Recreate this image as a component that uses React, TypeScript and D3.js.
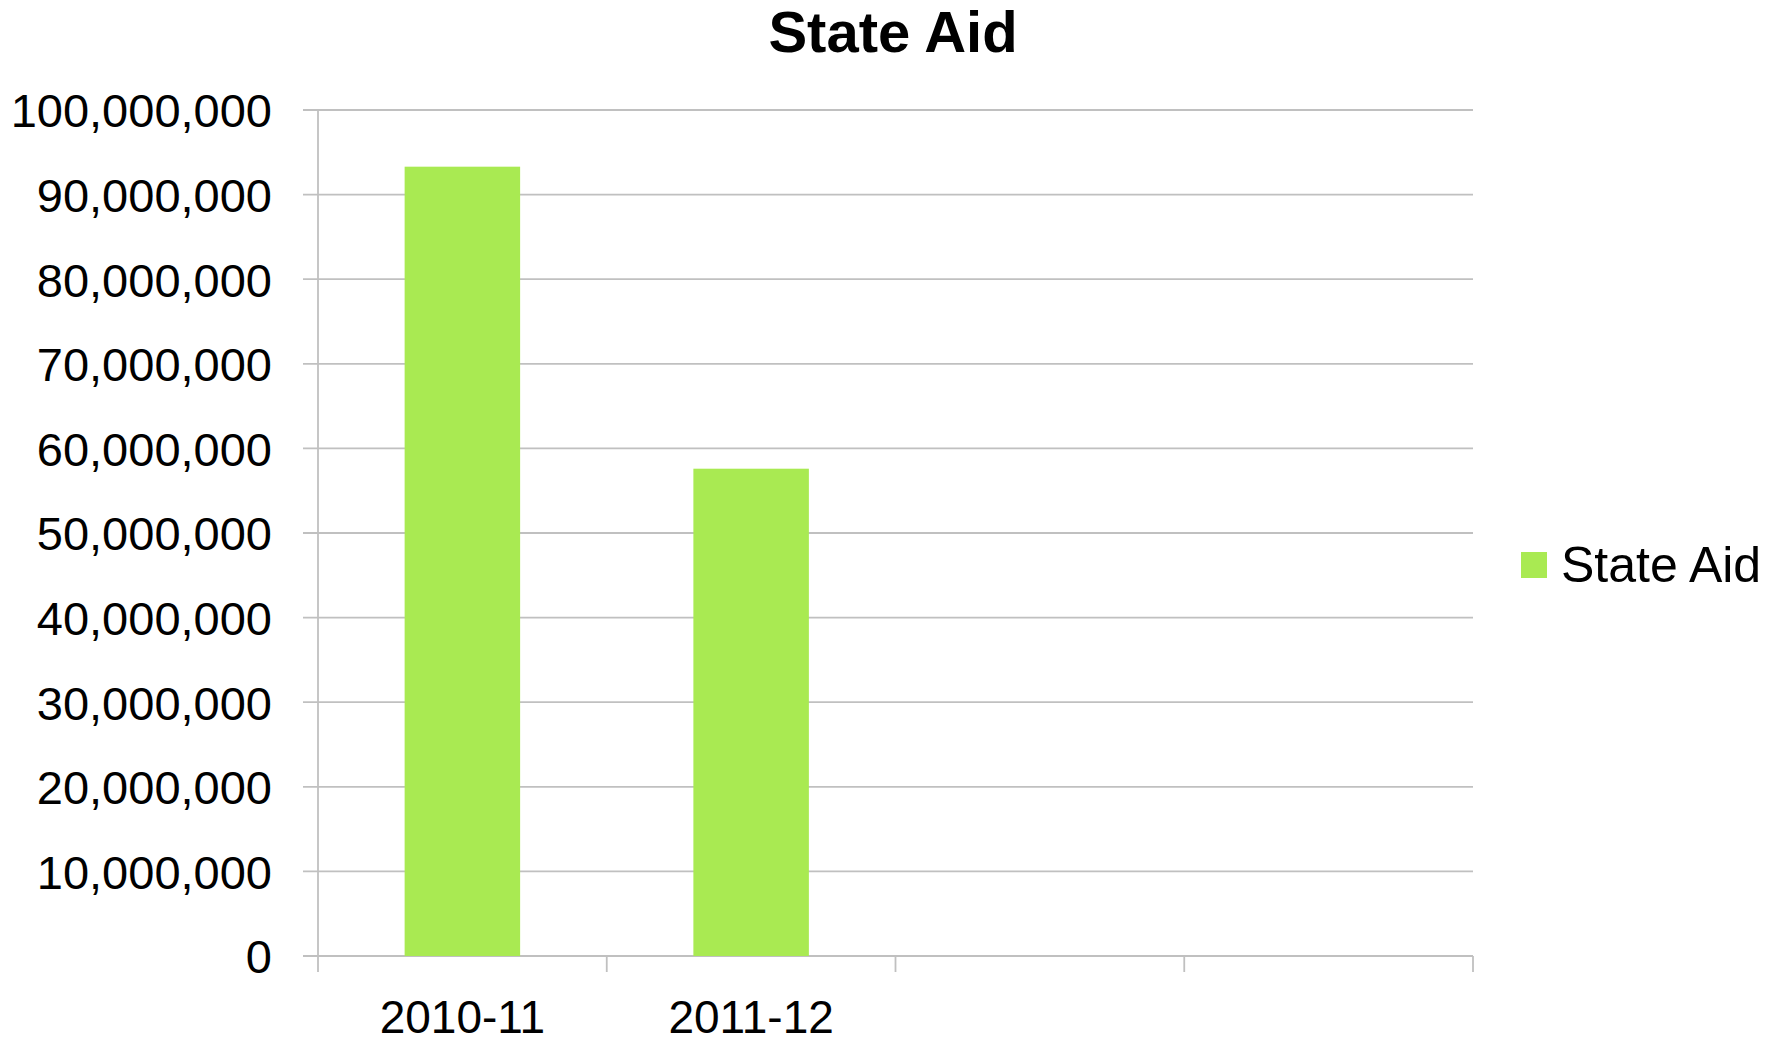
import { useEffect, useRef } from "react";
import * as d3 from "d3";

// chart values
const categories = ["2010-11", "2011-12", "", ""];
const stateAid = [93300000, 57600000, null, null];
const yTicks = [
  0, 10000000, 20000000, 30000000, 40000000, 50000000, 60000000, 70000000, 80000000, 90000000,
  100000000,
];
const seriesName = "State Aid";

const WIDTH = 1791;
const HEIGHT = 1042;
const FONT = "'Century Gothic', 'Liberation Sans', Arial, sans-serif";
const BAR = "#a9ea52";
const GRID = "#c0c0c0";

export default function App() {
  const svgRef = useRef<SVGSVGElement>(null);

  useEffect(() => {
    if (!svgRef.current) return;
    const margin = { top: 110, right: 318, bottom: 86, left: 318 };
    const W = WIDTH - margin.left - margin.right - 0;
    const H = HEIGHT - margin.top - margin.bottom;

    const svg = d3.select(svgRef.current);
    svg.selectAll("*").remove();

    const g = svg.append("g").attr("transform", `translate(${margin.left},${margin.top})`);

    const plotW = 1473 - margin.left;
    const x = d3
      .scaleBand<number>()
      .domain(d3.range(categories.length))
      .range([0, plotW])
      .padding(0);
    const y = d3.scaleLinear().domain([0, 100000000]).range([H, 0]);

    // gridlines
    g.selectAll("line.grid")
      .data(yTicks)
      .join("line")
      .attr("class", "grid")
      .attr("x1", -15)
      .attr("x2", plotW)
      .attr("y1", (d) => y(d))
      .attr("y2", (d) => y(d))
      .attr("stroke", GRID)
      .attr("stroke-width", 1.8);

    // y axis
    g.append("g")
      .call(
        d3
          .axisLeft(y)
          .tickValues(yTicks)
          .tickSize(0)
          .tickPadding(46)
          .tickFormat((d) => d3.format(",")(d as number))
      )
      .call((ax) => ax.select(".domain").remove())
      .call((ax) =>
        ax
          .selectAll("text")
          .attr("fill", "#000")
          .attr("font-family", FONT)
          .attr("font-size", "47px")
          .attr("dy", "0.36em")
      );

    g.append("line")
      .attr("x1", 0)
      .attr("x2", 0)
      .attr("y1", 0)
      .attr("y2", H + 16)
      .attr("stroke", GRID)
      .attr("stroke-width", 1.8);

    // category boundary ticks
    g.selectAll("line.xtick")
      .data(d3.range(1, categories.length + 1))
      .join("line")
      .attr("class", "xtick")
      .attr("x1", (i) => (i < categories.length ? x(i)! : plotW))
      .attr("x2", (i) => (i < categories.length ? x(i)! : plotW))
      .attr("y1", H)
      .attr("y2", H + 16)
      .attr("stroke", GRID)
      .attr("stroke-width", 1.8);

    // bars
    const barW = x.bandwidth() * 0.4;
    g.selectAll("rect.bar")
      .data(stateAid.map((v, i) => ({ v, i })).filter((d) => d.v != null))
      .join("rect")
      .attr("class", "bar")
      .attr("x", (d) => x(d.i)! + (x.bandwidth() - barW) / 2)
      .attr("width", barW)
      .attr("y", (d) => y(d.v as number))
      .attr("height", (d) => H - y(d.v as number))
      .attr("fill", BAR);

    // category labels
    g.selectAll("text.cat")
      .data(categories)
      .join("text")
      .attr("class", "cat")
      .attr("x", (_, i) => x(i)! + x.bandwidth() / 2)
      .attr("y", H + 77)
      .attr("text-anchor", "middle")
      .attr("font-family", FONT)
      .attr("font-size", "46px")
      .attr("fill", "#000")
      .text((d) => d);

    // title
    svg
      .append("text")
      .attr("x", 893)
      .attr("y", 52)
      .attr("text-anchor", "middle")
      .attr("font-family", FONT)
      .attr("font-weight", "bold")
      .attr("font-size", "58px")
      .attr("fill", "#000")
      .text(seriesName);

    // legend
    const lg = svg.append("g").attr("transform", "translate(1521,552)");
    lg.append("rect").attr("width", 26).attr("height", 26).attr("fill", BAR);
    lg.append("text")
      .attr("x", 40)
      .attr("y", 30)
      .attr("font-family", FONT)
      .attr("font-size", "50px")
      .attr("fill", "#000")
      .text(seriesName);

    void W;
  }, []);

  return (
    <svg
      ref={svgRef}
      width={WIDTH}
      height={HEIGHT}
      style={{ position: "absolute", left: 0, top: 0, background: "#fff" }}
    />
  );
}
